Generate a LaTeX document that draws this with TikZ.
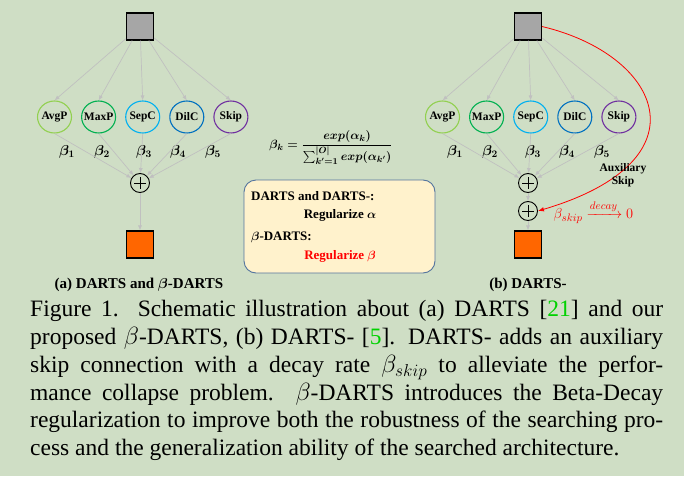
\documentclass[tikz,border=0pt]{standalone}
\usepackage{fontspec}
\setmainfont{Liberation Serif}
\usepackage{amsmath}
\usetikzlibrary{positioning, arrows.meta, shapes.geometric, calc}

\definecolor{bgcol}{RGB}{207,222,197}
\definecolor{arrowgray}{RGB}{192,192,192}
\definecolor{cellgray}{RGB}{166,166,166}
\definecolor{outorange}{RGB}{255,102,0}
\definecolor{opavg}{RGB}{146,208,80}
\definecolor{opmax}{RGB}{0,176,80}
\definecolor{opsep}{RGB}{0,176,240}
\definecolor{opdil}{RGB}{0,112,192}
\definecolor{opskip}{RGB}{112,48,160}
\definecolor{boxfill}{RGB}{255,242,204}
\definecolor{boxline}{RGB}{84,116,158}
\definecolor{citegreen}{RGB}{0,210,0}

\begin{document}
\begin{tikzpicture}[
    x=1pt, y=-1pt,
    cell/.style={draw=black, line width=1.1pt, minimum size=27pt, inner sep=0pt},
    opnode/.style={
        ellipse, line width=1.1pt,
        minimum width=34pt, minimum height=32pt,
        inner sep=0pt, inner xsep=-3pt,
        font=\fontsize{11.5}{13}\selectfont\bfseries
    },
    sumnode/.style={
        circle, draw=black, line width=0.9pt, minimum size=19pt, inner sep=0pt,
        path picture={
            \draw[line width=0.8pt]
                ($(path picture bounding box.west)+(3.5,0)$) -- ($(path picture bounding box.east)+(-3.5,0)$)
                ($(path picture bounding box.north)+(0,3.5)$) -- ($(path picture bounding box.south)+(0,-3.5)$);
        }
    },
    weight/.style={font=\fontsize{14}{16}\selectfont\boldmath, inner sep=0pt},
    flow/.style={-{Latex[length=5pt,width=4pt]}, draw=arrowgray, line width=0.7pt},
    auxflow/.style={-{Latex[length=6pt,width=4.5pt]}, draw=red, line width=0.8pt},
    subcap/.style={font=\fontsize{15}{17}\selectfont\bfseries, anchor=base, inner sep=0pt},
    boxtext/.style={font=\fontsize{13}{15}\selectfont\bfseries, inner sep=0pt},
    capline/.style={font=\fontsize{23.5}{27.8}\selectfont, anchor=base west, inner sep=0pt}
]

% Background
\fill[bgcol] (0,0) rectangle (684,476);
\useasboundingbox (0,0) rectangle (684,476);

%%%%%%%%%%%%%%%%%%%%%
% (a) DARTS and beta-DARTS
%%%%%%%%%%%%%%%%%%%%%
\begin{scope}[node distance=9pt]
    \node[cell, fill=cellgray] (topL) at (140,26.5) {};

    \node[opnode, draw=opavg] (avgpL) at (54.5,117) {AvgP};
    \node[opnode, draw=opmax, right=of avgpL] (maxpL) {MaxP};
    \node[opnode, draw=opsep, right=of maxpL] (sepcL) {SepC};
    \node[opnode, draw=opdil, right=of sepcL] (dilcL) {DilC};
    \node[opnode, draw=opskip, right=of dilcL] (skipL) {Skip};

    \node[sumnode] (sumL) at (140,183) {};
    \node[cell, fill=outorange] (outL) at (140,244.5) {};

    \node[weight] (wAvgL) at (67,152) {$\beta_1$};
    \node[weight] (wMaxL) at (102,152) {$\beta_2$};
    \node[weight] (wSepL) at (144,152) {$\beta_3$};
    \node[weight] (wDilL) at (178,152) {$\beta_4$};
    \node[weight] (wSkipL) at (213,152) {$\beta_5$};

    \draw[flow] (topL) -- (avgpL.north);
    \draw[flow] (topL) -- (maxpL.north);
    \draw[flow] (topL) -- (sepcL.north);
    \draw[flow] (topL) -- (dilcL.north);
    \draw[flow] (topL) -- (skipL.north);

    \draw[flow] (avgpL.south) -- (sumL);
    \draw[flow] (maxpL.south) -- (sumL);
    \draw[flow] (sepcL.south) -- (sumL);
    \draw[flow] (dilcL.south) -- (sumL);
    \draw[flow] (skipL.south) -- (sumL);
    \draw[flow] (sumL) -- (outL);

    \node[subcap] (capA) at (139,288) {(a) DARTS and $\boldsymbol{\beta}$-DARTS};
\end{scope}

%%%%%%%%%%%%%%%%%%%%%
% (b) DARTS- with auxiliary skip
%%%%%%%%%%%%%%%%%%%%%
\begin{scope}[shift={(388,0)}, node distance=9pt]
    \node[cell, fill=cellgray] (topR) at (140,26.5) {};

    \node[opnode, draw=opavg] (avgpR) at (54.5,117) {AvgP};
    \node[opnode, draw=opmax, right=of avgpR] (maxpR) {MaxP};
    \node[opnode, draw=opsep, right=of maxpR] (sepcR) {SepC};
    \node[opnode, draw=opdil, right=of sepcR] (dilcR) {DilC};
    \node[opnode, draw=opskip, right=of dilcR] (skipR) {Skip};

    \node[sumnode] (sumR) at (140,183) {};
    \node[sumnode] (sumRb) at (140,211) {};
    \node[cell, fill=outorange] (outR) at (140,244.5) {};

    \node[weight] (wAvgR) at (67,152) {$\beta_1$};
    \node[weight] (wMaxR) at (102,152) {$\beta_2$};
    \node[weight] (wSepR) at (145,152) {$\beta_3$};
    \node[weight] (wDilR) at (179,152) {$\beta_4$};
    \node[weight] (wSkipR) at (214,152) {$\beta_5$};

    \draw[flow] (topR) -- (avgpR.north);
    \draw[flow] (topR) -- (maxpR.north);
    \draw[flow] (topR) -- (sepcR.north);
    \draw[flow] (topR) -- (dilcR.north);
    \draw[flow] (topR) -- (skipR.north);

    \draw[flow] (avgpR.south) -- (sumR);
    \draw[flow] (maxpR.south) -- (sumR);
    \draw[flow] (sepcR.south) -- (sumR);
    \draw[flow] (dilcR.south) -- (sumR);
    \draw[flow] (skipR.south) -- (sumR);
    \draw[flow] (sumR) -- (sumRb);
    \draw[flow] (sumRb) -- (outR);

    % Auxiliary skip connection
    \draw[auxflow] (topR.east) .. controls +(118,28) and +(172,-51) .. (sumRb.east);
    \node[font=\fontsize{11.5}{13}\selectfont\bfseries, align=center, inner sep=0pt] (auxLbl) at (235,175.5) {Auxiliary\\Skip};
    \node[font=\fontsize{15}{17}\selectfont, text=red, anchor=base, inner sep=0pt] (decayLbl) at (205.5,218.5)
        {$\beta_{skip}\xrightarrow{decay}0$};

    \node[subcap] (capB) at (140,288) {(b) DARTS-};
\end{scope}

%%%%%%%%%%%%%%%%%%%%%
% Softmax and regularization box
%%%%%%%%%%%%%%%%%%%%%
\node[font=\fontsize{13}{15}\selectfont\boldmath, inner sep=0pt] (softmax) at (331,147.5)
    {$\beta_k=\dfrac{exp(\alpha_k)}{\sum_{k'=1}^{|O|}exp(\alpha_{k'})}$};

\node[draw=boxline, fill=boxfill, line width=0.9pt, rounded corners=12pt,
      minimum width=191pt, minimum height=93pt] (regbox) at (339.5,226.5) {};
\node[boxtext, anchor=base west] (regDarts) at (251,200) {DARTS and DARTS-:};
\node[boxtext, anchor=base] (regAlpha) at (340,218) {Regularize $\boldsymbol{\alpha}$};
\node[boxtext, anchor=base west] (regBetaD) at (251,240.5) {$\boldsymbol{\beta}$-DARTS:};
\node[boxtext, anchor=base, text=red] (regBeta) at (340,259) {Regularize $\boldsymbol{\beta}$};

%%%%%%%%%%%%%%%%%%%%%
% Figure caption
%%%%%%%%%%%%%%%%%%%%%
\node[capline] (capL1) at (30,316.7) {\makebox[633pt][s]{Figure 1.  Schematic illustration about (a) DARTS [\textcolor{citegreen}{21}] and our}};
\node[capline] (capL2) at (30,344.5) {\makebox[633pt][s]{proposed $\beta$-DARTS, (b) DARTS- [\textcolor{citegreen}{5}]. DARTS- adds an auxiliary}};
\node[capline] (capL3) at (30,372.3) {\makebox[633pt][s]{skip connection with a decay rate $\beta_{skip}$ to alleviate the perfor-}};
\node[capline] (capL4) at (30,400.1) {\makebox[633pt][s]{mance collapse problem.  $\beta$-DARTS introduces the Beta-Decay}};
\node[capline] (capL5) at (30,427.9) {\makebox[633pt][s]{regularization to improve both the robustness of the searching pro-}};
\node[capline] (capL6) at (30,455.7) {cess and the generalization ability of the searched architecture.};

\end{tikzpicture}
\end{document}
